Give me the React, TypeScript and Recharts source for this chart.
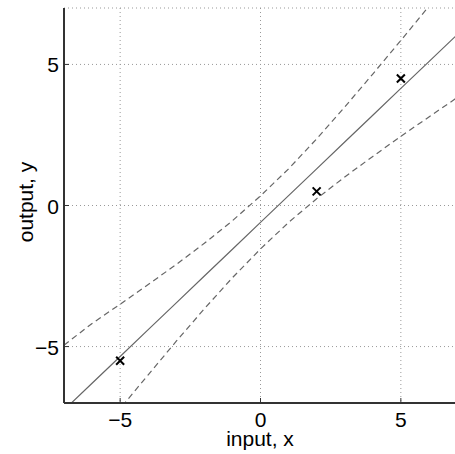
import { ComposedChart, Line, Scatter, XAxis, YAxis, CartesianGrid } from "recharts";

const xs = [-7, -6, -5, -4, -3, -2, -1, 0, 1, 2, 3, 4, 5, 6, 7];
// posterior mean (solid line)
const meanLine = [-7.25, -6.3, -5.35, -4.4, -3.45, -2.5, -1.55, -0.6, 0.35, 1.3, 2.25, 3.2, 4.15, 5.1, 6.05];
// upper / lower dashed band
const upperBand = [-4.95, -4.18, -3.5, -2.8, -2.09, -1.34, -0.54, 0.34, 1.3, 2.36, 3.49, 4.66, 5.85, 7.06, 8.28];
const lowerBand = [-9.55, -8.42, -7.2, -6.0, -4.81, -3.66, -2.56, -1.54, -0.6, 0.24, 1.01, 1.74, 2.45, 3.14, 3.82];
// observed training points
const pointX = [-5, 2, 5];
const pointY = [-5.5, 0.5, 4.5];
const axisTicks = [-5, 0, 5];

const curveData = xs.map((x, i) => ({ x, mean: meanLine[i], upper: upperBand[i], lower: lowerBand[i] }));
const pointData = pointX.map((x, i) => ({ x, y: pointY[i] }));

const FONT = "'Liberation Sans', Arial, Helvetica, sans-serif";
const AXIS = "#333";
const fmt = (v: number) => String(v).replace("-", "\u2212");

function BottomTick({ x, y, payload }: any) {
  return (
    <g>
      <line x1={x} x2={x} y1={y} y2={y - 5} stroke={AXIS} strokeWidth={1} />
      <text x={x} y={y + 24} textAnchor="middle" fontSize={21} fontFamily={FONT} fill="#000">
        {fmt(payload.value)}
      </text>
    </g>
  );
}

function TopTick({ x, y }: any) {
  return <line x1={x} x2={x} y1={y} y2={y + 5} stroke={AXIS} strokeWidth={1} />;
}

function LeftTick({ x, y, payload }: any) {
  return (
    <g>
      <line x1={x} x2={x + 5} y1={y} y2={y} stroke={AXIS} strokeWidth={1} />
      <text x={x - 5} y={y + 8} textAnchor="end" fontSize={21} fontFamily={FONT} fill="#000">
        {fmt(payload.value)}
      </text>
    </g>
  );
}

function Cross({ cx, cy }: any) {
  const s = 4;
  return (
    <path
      d={`M${cx - s},${cy - s}L${cx + s},${cy + s}M${cx - s},${cy + s}L${cx + s},${cy - s}`}
      stroke="#000"
      strokeWidth={2}
    />
  );
}

export default function App() {
  return (
    <div style={{ position: "fixed", left: 0, top: 0, width: 455, height: 454, overflow: "hidden", background: "#fff" }}>
      <ComposedChart
        width={457}
        height={454}
        data={curveData}
        margin={{ top: 8, right: 0, left: 14, bottom: 0 }}
      >
        <CartesianGrid stroke="#999" strokeDasharray="1 3" />
        <XAxis
          dataKey="x"
          type="number"
          domain={[-7, 7]}
          allowDataOverflow
          ticks={axisTicks}
          height={51}
          tickSize={0}
          tickMargin={0}
          tickLine={false}
          tick={<BottomTick />}
          axisLine={{ stroke: AXIS, strokeWidth: 2 }}
          label={{
            content: () => (
              <text x={260} y={446} textAnchor="middle" fontSize={21} fontFamily={FONT} fill="#000">
                input, x
              </text>
            ),
          }}
        />
        <XAxis
          xAxisId="top"
          orientation="top"
          dataKey="x"
          type="number"
          domain={[-7, 7]}
          allowDataOverflow
          ticks={axisTicks}
          height={0}
          tickSize={0}
          tickMargin={0}
          tickLine={false}
          tick={<TopTick />}
          axisLine={{ stroke: AXIS, strokeWidth: 2 }}
        />
        <YAxis
          type="number"
          domain={[-7, 7]}
          allowDataOverflow
          ticks={axisTicks}
          width={50}
          tickSize={0}
          tickMargin={0}
          tickLine={false}
          tick={<LeftTick />}
          axisLine={{ stroke: AXIS, strokeWidth: 2 }}
          label={{
            content: () => (
              <text
                x={33}
                y={202}
                transform="rotate(-90 33 202)"
                textAnchor="middle"
                fontSize={21}
                fontFamily={FONT}
                fill="#000"
              >
                output, y
              </text>
            ),
          }}
        />
        <Line dataKey="upper" stroke="#666" strokeWidth={1.2} strokeDasharray="6 4" dot={false} isAnimationActive={false} />
        <Line dataKey="lower" stroke="#666" strokeWidth={1.2} strokeDasharray="6 4" dot={false} isAnimationActive={false} />
        <Line dataKey="mean" stroke="#666" strokeWidth={1.2} dot={false} isAnimationActive={false} />
        <Scatter data={pointData} dataKey="y" shape={<Cross />} isAnimationActive={false} />
      </ComposedChart>
    </div>
  );
}
